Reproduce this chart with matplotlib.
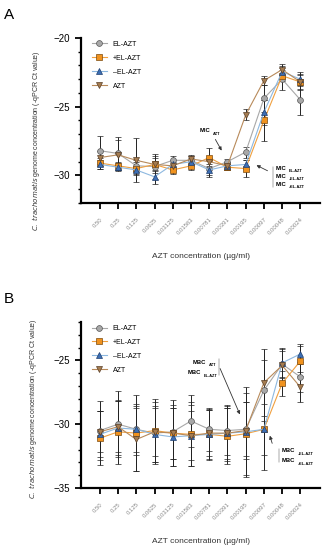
import numpy as np
import matplotlib.pyplot as plt
from matplotlib.lines import Line2D
from matplotlib.ticker import MultipleLocator

plt.rcParams['font.family'] = ['Liberation Sans', 'DejaVu Sans']

conc = ['0.50', '0.25', '0.125', '0.0625', '0.03125', '0.01563', '0.00781',
        '0.00391', '0.00195', '0.00097', '0.00048', '0.00024']
series = ['EL-AZT', '+EL-AZT', '\u2013EL-AZT', 'AZT']

# Panel A: MIC (mean -Ct and SD)
a_el = [-28.2, -28.4, -29.3, -29.35, -28.9, -28.9, -29.5, -29.0, -28.3, -24.4, -23.0, -24.5]
a_pel = [-29.1, -29.3, -29.5, -29.2, -29.6, -29.3, -28.7, -29.4, -29.5, -26.0, -22.75, -23.2]
a_mel = [-29.2, -29.4, -29.6, -30.1, -29.2, -29.0, -29.6, -29.3, -29.2, -25.4, -22.45, -23.0]
a_azt = [-28.7, -28.5, -28.9, -29.2, -29.3, -28.8, -29.0, -29.3, -25.6, -23.1, -22.3, -23.2]
a_el_sd = [1.1, 1.2, 0.4, 0.9, 0.3, 0.3, 0.6, 0.2, 0.4, 1.0, 0.8, 1.1]
a_pel_sd = [0.4, 0.3, 0.5, 0.5, 0.3, 0.3, 0.7, 0.2, 0.6, 1.5, 0.4, 0.6]
a_mel_sd = [0.3, 0.3, 0.3, 0.5, 0.3, 0.3, 0.4, 0.3, 0.3, 0.9, 0.4, 0.5]
a_azt_sd = [0.5, 1.1, 1.6, 0.6, 0.3, 0.3, 0.3, 0.3, 0.4, 0.3, 0.4, 0.5]

# Panel B: MBC
b_el = [-30.5, -30.0, -30.4, -30.7, -30.6, -29.75, -30.4, -30.5, -30.4, -27.35, -25.3, -26.3]
b_pel = [-31.1, -30.6, -30.7, -30.5, -30.7, -30.8, -30.8, -30.95, -30.75, -30.4, -26.8, -25.05]
b_mel = [-30.8, -30.3, -30.4, -30.8, -31.0, -30.9, -30.8, -30.7, -30.6, -30.4, -25.2, -24.5]
b_azt = [-30.6, -30.2, -31.2, -30.6, -30.7, -30.9, -30.7, -30.7, -30.5, -26.75, -25.4, -27.1]
b_el_sd = [2.3, 2.6, 1.8, 2.4, 2.1, 2.0, 1.7, 1.9, 2.1, 2.4, 1.0, 1.2]
b_pel_sd = [2.1, 2.5, 3.0, 2.5, 2.6, 2.5, 2.0, 2.2, 3.2, 3.2, 1.0, 1.2]
b_mel_sd = [1.8, 2.1, 2.0, 2.2, 2.3, 1.9, 1.9, 2.0, 3.5, 2.0, 1.2, 0.8]
b_azt_sd = [1.6, 2.0, 2.5, 1.9, 2.0, 2.4, 1.8, 2.2, 2.2, 2.6, 1.3, 1.2]

styles = [
    dict(marker='o', mfc='#A8A8A8', mec='#555555', color='#A8A8A8', ms=4.2),
    dict(marker='s', mfc='#F0921E', mec='#7A4A10', color='#F0A040', ms=3.8),
    dict(marker='^', mfc='#3C6EB4', mec='#1F3F70', color='#8DB8E0', ms=3.8),
    dict(marker='v', mfc='#A57C50', mec='#5A4028', color='#B88A5A', ms=3.8),
]


def draw_panel(ax, data, errs, ylim, yticks):
    x = np.arange(len(conc))
    handles = []
    for name, y, e, st in zip(series, data, errs, styles):
        ax.errorbar(x, y, yerr=e, lw=0.8, elinewidth=0.7,
                    ecolor='#222222', capsize=2.2, capthick=0.7,
                    markeredgewidth=0.5, **st)
        handles.append(Line2D([], [], lw=0.8, markeredgewidth=0.5, label=name, **st))
    ax.set_xlim(-1.05, 12.1)
    ax.set_ylim(*ylim)
    ax.set_yticks(yticks)
    ax.yaxis.set_minor_locator(MultipleLocator(1))
    ax.set_xticks(x)
    ax.set_xticklabels(conc, rotation=45, ha='right', rotation_mode='anchor',
                       fontsize=4.3, color='#888888')
    ax.tick_params(axis='y', labelsize=7, width=1.3, length=4)
    ax.tick_params(axis='y', which='minor', width=1.0, length=2.5)
    ax.tick_params(axis='x', width=1.3, length=4, pad=6)
    for s in ['top', 'right']:
        ax.spines[s].set_visible(False)
    for s in ['left', 'bottom']:
        ax.spines[s].set_linewidth(1.6)
    ax.set_xlabel('AZT concentration (\u00b5g/ml)', fontsize=6, labelpad=12,
                  color='#333333')
    ax.set_ylabel(r'$\it{C.\ trachomatis}$ genome concentration (-qPCR Ct value)',
                  fontsize=5, color='#333333')
    ax.legend(handles=handles, loc='upper left', bbox_to_anchor=(0.02, 1.02),
              frameon=False, fontsize=5, handlelength=2.2, labelspacing=1.0)


def sub_label(ax, x, y, main, sub):
    t = ax.annotate(main, (x, y), xycoords='figure pixels', fontsize=4.2,
                    fontweight='bold', va='center', ha='left')
    ax.annotate(sub, (1.0, 0.2), xycoords=t, textcoords='offset points',
                xytext=(1.5, -1), fontsize=2.8, fontweight='bold', va='center',
                ha='left')


fig = plt.figure(figsize=(3.24, 5.5), dpi=100)
axA = fig.add_axes([0.249, 0.631, 0.74, 0.30])
axB = fig.add_axes([0.249, 0.1127, 0.74, 0.3018])

draw_panel(axA, [a_el, a_pel, a_mel, a_azt],
           [a_el_sd, a_pel_sd, a_mel_sd, a_azt_sd], (-32, -20), [-30, -25, -20])
draw_panel(axB, [b_el, b_pel, b_mel, b_azt],
           [b_el_sd, b_pel_sd, b_mel_sd, b_azt_sd], (-35, -22), [-35, -30, -25])
axA.yaxis.set_label_coords(-0.16, 0.38)
axB.yaxis.set_label_coords(-0.175, 0.48)

fig.text(0.012, 0.972, 'A', fontsize=11, va='center')
fig.text(0.012, 0.457, 'B', fontsize=11, va='center')

H = 550
# Panel A annotations
sub_label(axA, 200, H - 131, 'MIC', 'AZT')
axA.annotate('', xy=(223, H - 153), xytext=(214, H - 137), xycoords='figure pixels',
             arrowprops=dict(arrowstyle='-|>', lw=0.6, color='#333333',
                             mutation_scale=5))
sub_label(axA, 276, H - 168, 'MIC', 'EL-AZT')
sub_label(axA, 276, H - 176, 'MIC', '\u2013EL-AZT')
sub_label(axA, 276, H - 184, 'MIC', '+EL-AZT')
axA.annotate('', xy=(273, H - 164), xytext=(273, H - 190), xycoords='figure pixels',
             arrowprops=dict(arrowstyle='-', lw=0.5, color='#888888'))
axA.annotate('', xy=(254, H - 164), xytext=(270, H - 172), xycoords='figure pixels',
             arrowprops=dict(arrowstyle='-|>', lw=0.6, color='#333333',
                             mutation_scale=5))

# Panel B annotations
sub_label(axB, 193, H - 362, 'MBC', 'AZT')
sub_label(axB, 188, H - 373, 'MBC', 'EL-AZT')
axB.annotate('', xy=(219, H - 356), xytext=(219, H - 378), xycoords='figure pixels',
             arrowprops=dict(arrowstyle='-', lw=0.5, color='#888888'))
axB.annotate('', xy=(241, H - 417), xytext=(219, H - 366), xycoords='figure pixels',
             arrowprops=dict(arrowstyle='-|>', lw=0.6, color='#333333',
                             mutation_scale=5))
sub_label(axB, 282, H - 451, 'MBC', '\u2013EL-AZT')
sub_label(axB, 282, H - 461, 'MBC', '+EL-AZT')
axB.annotate('', xy=(279, H - 446), xytext=(279, H - 465), xycoords='figure pixels',
             arrowprops=dict(arrowstyle='-', lw=0.5, color='#888888'))
axB.annotate('', xy=(269, H - 433), xytext=(273, H - 446), xycoords='figure pixels',
             arrowprops=dict(arrowstyle='-|>', lw=0.6, color='#333333',
                             mutation_scale=5))

plt.savefig('out.png', dpi=100, facecolor='white')
